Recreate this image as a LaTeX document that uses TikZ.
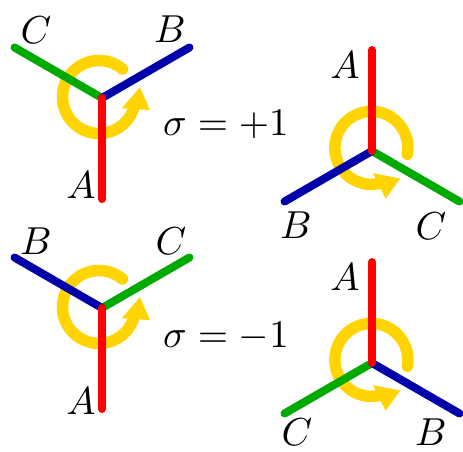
\documentclass[tikz,border=0pt]{standalone}
\usepackage{graphicx}
\definecolor{cred}{RGB}{255,0,0}
\definecolor{cgreen}{RGB}{0,170,0}
\definecolor{cblue}{RGB}{0,0,170}
\definecolor{cyel}{RGB}{255,212,0}
\newcommand{\bigtxt}[1]{\scalebox{3.9}{#1}}
\tikzset{
  arm/.style={line width=8pt, line cap=round},
  lbl/.style={inner sep=0pt},
  swirl/.style={cyel, line width=11.5pt, line cap=round},
  swirlhead/.style={fill=cyel, draw=none},
}
\begin{document}
\begin{tikzpicture}[x=1pt, y=1pt]
\useasboundingbox[fill=white] (0,0) rectangle (463,452);

% ---------- top-left: A 270, B 30, C 150 ----------
\coordinate (v1) at (102,354);
\path (v1) ++(270:101) coordinate (a1);
\path (v1) ++(30:101) coordinate (b1);
\path (v1) ++(150:101) coordinate (c1);
\begin{scope}[shift={(v1)}]
  \draw[swirl] (-3,1) ++(50:36.5) arc[start angle=50, end angle=342, radius=36.5pt];
  \fill[swirlhead] (38,10.7) -- (19.7,-10.3) -- (48,-12) -- cycle;
\end{scope}
\draw[arm, cgreen] (v1) -- (c1);
\draw[arm, cblue] (v1) -- (b1);
\draw[arm, cred] (v1) -- (a1);
\node[lbl] (lc1) at (36,422) {\bigtxt{$C$}};
\node[lbl] (lb1) at (170,423) {\bigtxt{$B$}};
\node[lbl] (la1) at (81,267) {\bigtxt{$A$}};

\node[lbl, anchor=base] (s1) at (226,316) {\bigtxt{$\sigma = +1$}};

% ---------- top-right: A 90, B 210, C 330 ----------
\coordinate (v2) at (372,301);
\path (v2) ++(90:101) coordinate (a2);
\path (v2) ++(210:101) coordinate (b2);
\path (v2) ++(330:101) coordinate (c2);
\begin{scope}[shift={(v2)}, rotate=-60]
  \draw[swirl] (-3,1) ++(50:36.5) arc[start angle=50, end angle=342, radius=36.5pt];
  \fill[swirlhead] (38,10.7) -- (19.7,-10.3) -- (48,-12) -- cycle;
\end{scope}
\draw[arm, cgreen] (v2) -- (c2);
\draw[arm, cblue] (v2) -- (b2);
\draw[arm, cred] (v2) -- (a2);
\node[lbl] (la2) at (345,387) {\bigtxt{$A$}};
\node[lbl] (lb2) at (296,227) {\bigtxt{$B$}};
\node[lbl] (lc2) at (431,226) {\bigtxt{$C$}};

% ---------- bottom-left: A 270, B 150, C 30 ----------
\coordinate (v3) at (102,144);
\path (v3) ++(270:101) coordinate (a3);
\path (v3) ++(150:101) coordinate (b3);
\path (v3) ++(30:101) coordinate (c3);
\begin{scope}[shift={(v3)}]
  \draw[swirl] (-3,1) ++(50:36.5) arc[start angle=50, end angle=342, radius=36.5pt];
  \fill[swirlhead] (38,10.7) -- (19.7,-10.3) -- (48,-12) -- cycle;
\end{scope}
\draw[arm, cgreen] (v3) -- (c3);
\draw[arm, cblue] (v3) -- (b3);
\draw[arm, cred] (v3) -- (a3);
\node[lbl] (lb3) at (36,211) {\bigtxt{$B$}};
\node[lbl] (lc3) at (171,211) {\bigtxt{$C$}};
\node[lbl] (la3) at (81,51) {\bigtxt{$A$}};

\node[lbl, anchor=base] (s2) at (226,104) {\bigtxt{$\sigma = -1$}};

% ---------- bottom-right: A 90, C 210, B 330 ----------
\coordinate (v4) at (372,89);
\path (v4) ++(90:101) coordinate (a4);
\path (v4) ++(210:101) coordinate (c4);
\path (v4) ++(330:101) coordinate (b4);
\begin{scope}[shift={(v4)}, rotate=-60]
  \draw[swirl] (-3,1) ++(50:36.5) arc[start angle=50, end angle=342, radius=36.5pt];
  \fill[swirlhead] (38,10.7) -- (19.7,-10.3) -- (48,-12) -- cycle;
\end{scope}
\draw[arm, cgreen] (v4) -- (c4);
\draw[arm, cblue] (v4) -- (b4);
\draw[arm, cred] (v4) -- (a4);
\node[lbl] (la4) at (345,175) {\bigtxt{$A$}};
\node[lbl] (lc4) at (297,20) {\bigtxt{$C$}};
\node[lbl] (lb4) at (431,20) {\bigtxt{$B$}};
\end{tikzpicture}
\end{document}
